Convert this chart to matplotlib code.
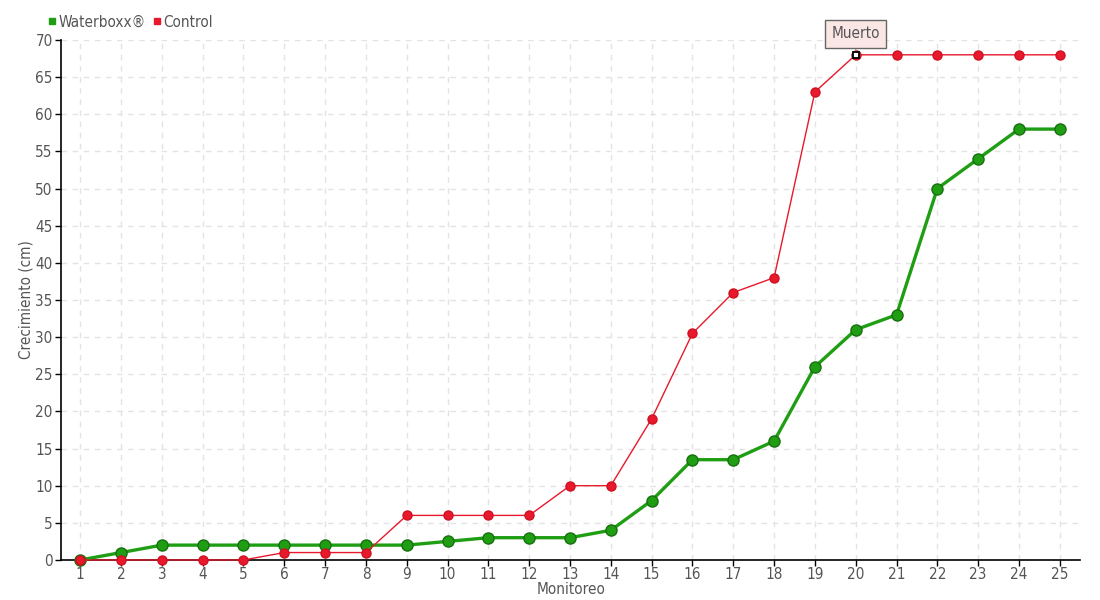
import matplotlib
matplotlib.use("Agg")
from matplotlib import pyplot as plt
from matplotlib.lines import Line2D

plt.rcParams['font.family'] = ['DejaVu Sans']
plt.rcParams['font.stretch'] = 'condensed'

monitoreo = list(range(1, 26))
waterboxx = [0, 1, 2, 2, 2, 2, 2, 2, 2, 2.5, 3, 3, 3, 4, 8, 13.5, 13.5, 16, 26, 31, 33, 50, 54, 58, 58]
control = [0, 0, 0, 0, 0, 1, 1, 1, 6, 6, 6, 6, 10, 10, 19, 30.5, 36, 38, 63, 68, 68, 68, 68, 68, 68]
muerto_idx = 19  # monitoreo 20

green = "#1f9e14"
red = "#e8192c"
text_col = "#555555"

fig = plt.figure(figsize=(11, 6), dpi=100)
ax = fig.add_axes([0.0555, 0.0667, 0.9265, 0.8667])

ax.plot(monitoreo, waterboxx, color=green, lw=2.4, marker="o", ms=8,
        mfc=green, mec="#18700f", mew=1, zorder=3, clip_on=False)
ax.plot(monitoreo, control, color=red, lw=1, marker="o", ms=6.5,
        mfc=red, mec="#d01020", zorder=4, clip_on=False)

# dead marker
ax.plot([monitoreo[muerto_idx]], [control[muerto_idx]], marker="s", ms=5,
        mfc="white", mec="black", mew=1.3, zorder=5, ls="none")
ax.annotate("Muerto", xy=(monitoreo[muerto_idx], control[muerto_idx]),
            xytext=(0, 15), textcoords="offset points", ha="center", va="center",
            fontsize=11, color=text_col,
            bbox=dict(boxstyle="square,pad=0.4", fc="#fbe6e6", ec="#666666", lw=1),
            arrowprops=dict(arrowstyle="-", color="#666666", lw=0.8,
                            shrinkA=0, shrinkB=4))

ax.set_xlim(0.53, 25.5)
ax.set_ylim(0, 70)
ax.set_xticks(monitoreo)
ax.set_yticks(range(0, 71, 5))
ax.grid(True, ls=(0, (4, 4)), color="#e3e3e3", lw=1)
ax.set_axisbelow(True)
for s in ["top", "right"]:
    ax.spines[s].set_visible(False)
for s in ["left", "bottom"]:
    ax.spines[s].set_color("black")
    ax.spines[s].set_linewidth(1.2)
ax.tick_params(axis="both", direction="out", length=4, width=1, colors="black",
               labelcolor=text_col, labelsize=11)
ax.tick_params(axis="x", pad=1)
ax.tick_params(axis="y", pad=2)

ax.set_xlabel("Monitoreo", fontsize=11, color=text_col, labelpad=0)
ax.set_ylabel("Crecimiento (cm)", fontsize=11, color=text_col, labelpad=1)

# legend
handles = [Line2D([], [], ls="none", marker="s", ms=5, color=green),
           Line2D([], [], ls="none", marker="s", ms=5, color=red)]
leg = fig.legend(handles, ["Waterboxx®", "Control"], loc="center left",
                 bbox_to_anchor=(0.044, 0.963), ncol=2, frameon=False,
                 handlelength=0.5, handletextpad=0.15, columnspacing=0.5,
                 fontsize=11, borderpad=0, borderaxespad=0)
for t in leg.get_texts():
    t.set_color(text_col)

fig.savefig("out.png", dpi=100)
